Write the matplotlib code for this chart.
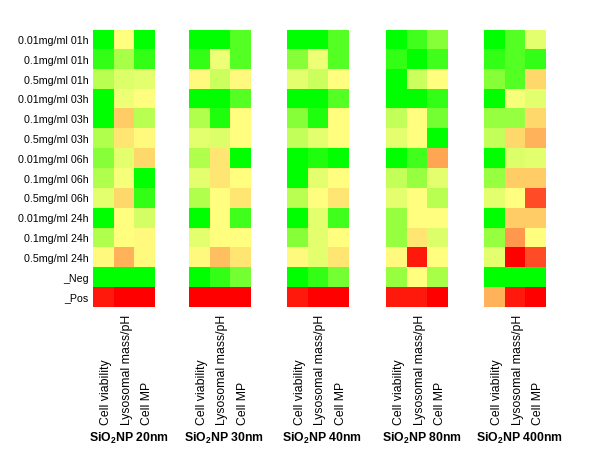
import numpy as np
import matplotlib.pyplot as plt
from matplotlib.colors import LinearSegmentedColormap

plt.rcParams['font.family'] = ['Liberation Sans', 'DejaVu Sans']
plt.rcParams['mathtext.fontset'] = 'custom'
plt.rcParams['mathtext.bf'] = 'Liberation Sans:bold'
plt.rcParams['mathtext.rm'] = 'Liberation Sans'
plt.rcParams['mathtext.default'] = 'bf'

rows = ['0.01mg/ml 01h', '0.1mg/ml 01h', '0.5mg/ml 01h',
        '0.01mg/ml 03h', '0.1mg/ml 03h', '0.5mg/ml 03h',
        '0.01mg/ml 06h', '0.1mg/ml 06h', '0.5mg/ml 06h',
        '0.01mg/ml 24h', '0.1mg/ml 24h', '0.5mg/ml 24h',
        '_Neg', '_Pos']
cols = ['Cell viability', 'Lysosomal mass/pH', 'Cell MP']
titles = ['SiO$_2$NP 20nm', 'SiO$_2$NP 30nm', 'SiO$_2$NP 40nm',
          'SiO$_2$NP 80nm', 'SiO$_2$NP 400nm']

# -1 = green, 0 = yellow, 1 = red
np20 = [[-1, 0, -1], [-0.85, -0.5, -0.85], [-0.4, -0.2, -0.15],
        [-1, -0.1, 0], [-1, 0.2, -0.4], [-0.45, 0.1, 0.02],
        [-0.6, -0.15, 0.15], [-0.45, -0.05, -1], [-0.15, 0.15, -0.85],
        [-1, 0, -0.25], [-0.45, 0, 0.02], [0.02, 0.3, 0.02],
        [-1, -1, -1], [0.9, 1, 1]]
np30 = [[-1, -1, -0.75], [-0.85, -0.1, -0.75], [0.02, -0.3, 0.02],
        [-1, -1, -0.75], [-0.45, -0.9, 0], [-0.15, -0.2, 0],
        [-0.45, 0.1, -1], [-0.15, 0.1, 0], [-0.45, 0, 0.1],
        [-1, 0, -0.8], [-0.15, 0, 0], [0.02, 0.25, 0.1],
        [-1, -0.85, -0.65], [1, 1, 1]]
np40 = [[-1, -1, -0.75], [-0.6, -0.1, -0.75], [-0.15, -0.3, 0],
        [-1, -1, -0.75], [-0.6, -0.9, 0], [-0.35, -0.15, 0],
        [-1, -0.9, -1], [-1, -0.15, 0], [-0.4, 0, 0.1],
        [-1, -0.15, -0.8], [-0.6, -0.15, 0], [0.02, -0.15, 0.1],
        [-1, -0.85, -0.65], [0.9, 1, 1]]
np80 = [[-1, -0.8, -0.6], [-0.85, -1, -0.8], [-1, -0.3, 0],
        [-1, -1, -0.85], [-0.35, 0, -0.65], [-0.15, 0, -1],
        [-1, -0.8, 0.35], [-0.35, -0.55, -0.15], [-0.15, 0, -0.4],
        [-0.55, 0, 0], [-0.55, 0.1, -0.2], [0.02, 0.9, 0],
        [-0.55, 0, -0.5], [0.9, 0.9, 1]]
np400 = [[-1, -0.75, -0.15], [-0.85, -0.75, -0.85], [-0.6, -0.75, 0.15],
         [-1, -0.05, -0.15], [-0.55, -0.55, 0.15], [-0.35, 0.15, 0.3],
         [-1, -0.2, -0.15], [-0.55, 0.2, 0.2], [-0.15, 0, 0.7],
         [-1, 0.2, 0.2], [-0.55, 0.4, 0], [-0.15, 1, 0.7],
         [-1, -1, -1], [0.3, 0.9, 1]]
panels = [np20, np30, np40, np80, np400]

cmap = LinearSegmentedColormap.from_list(
    'gyr', [(0, '#00ff00'), (0.25, '#a8ff48'), (0.5, '#ffff80'), (1, '#ff0000')])

W, H = 600, 468
fig = plt.figure(figsize=(6, 4.68), dpi=100)
lefts = [93, 188.5, 286.5, 386, 484]
top, bot = 30, 307.5
pw = 61.5
cw = pw / 3

for k, data in enumerate(panels):
    ax = fig.add_axes([lefts[k]/W, 1-bot/H, pw/W, (bot-top)/H])
    ax.imshow(np.array(data), cmap=cmap, vmin=-1, vmax=1, aspect='auto',
              interpolation='nearest')
    for s in ax.spines.values():
        s.set_visible(False)
    ax.set_xticks([])
    if k == 0:
        ax.set_yticks(range(len(rows)))
        ax.set_yticklabels(rows, fontsize=7.7)
        ax.tick_params(axis='y', length=0, pad=3)
    else:
        ax.set_yticks([])
    # column labels, rotated, bottom aligned
    for j, c in enumerate(cols):
        fig.text((lefts[k] + cw*(j+0.5) + 3)/W, 1-425/H, c, rotation=90,
                 ha='center', va='bottom', fontsize=8.8)
    fig.text((lefts[k]+pw/2+5)/W, 1-438/H, titles[k], ha='center', va='center',
             fontsize=8.8, fontweight='bold')

fig.savefig('out.png', dpi=100)
